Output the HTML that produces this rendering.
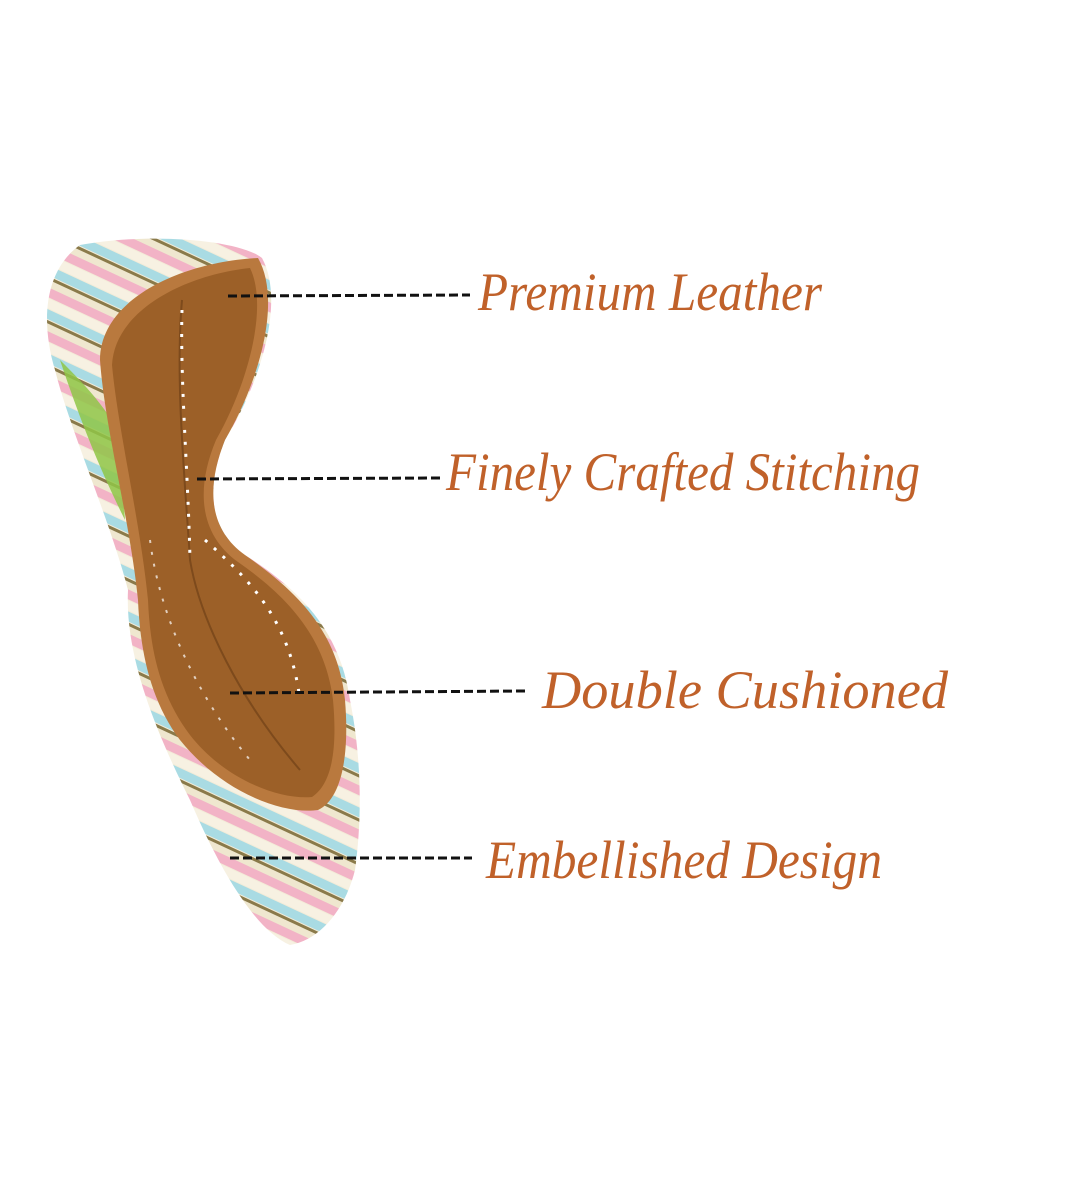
<!DOCTYPE html>
<html><head><meta charset="utf-8"><style>
html,body{margin:0;padding:0;background:#fff;}
svg{display:block}
</style></head><body>
<svg width="1080" height="1200" viewBox="0 0 1080 1200" xmlns="http://www.w3.org/2000/svg">
<defs>
<pattern id="beads" patternUnits="userSpaceOnUse" width="40" height="40" patternTransform="rotate(25)">
<rect width="40" height="40" fill="#f3ecd8"/>
<rect y="0" width="40" height="9" fill="#f2b3c6"/>
<rect y="10" width="40" height="9" fill="#f7f1e2"/>
<rect y="20" width="40" height="9" fill="#a9dbe3"/>
<rect y="30" width="40" height="3" fill="#8a7a4a"/>
<rect y="33" width="40" height="7" fill="#efe7cf"/>
</pattern>
</defs>
<path d="M80,245 C150,232 240,240 262,258 C285,300 262,380 225,440 C205,490 210,530 245,555 C300,590 340,630 350,700 C362,760 362,820 355,870 C345,910 320,940 290,945 C255,930 220,870 190,800 C150,720 125,650 128,590 C110,520 70,430 55,370 C40,320 45,270 80,245 Z" fill="url(#beads)"/>
<path d="M60,360 C80,420 100,470 125,520 L118,430 C100,400 80,380 60,360Z" fill="#8fc646" opacity="0.85"/>
<path d="M258,258 C282,300 260,380 225,440 C205,490 210,530 245,555 C295,590 338,630 345,700 C350,760 340,800 318,810 C280,815 220,790 180,740 C150,700 140,650 138,600 C130,520 105,430 100,360 C100,300 180,262 258,258Z" fill="#b9793e"/>
<path d="M250,268 C268,305 250,380 216,440 C195,490 200,535 238,562 C285,595 325,635 333,700 C338,755 330,785 312,797 C280,800 225,780 190,735 C160,695 150,650 148,600 C140,520 118,430 112,365 C115,310 185,275 250,268 Z" fill="#9c6028"/>
<path d="M182,300 C175,380 185,480 190,560 C200,620 240,700 300,770" stroke="#7d4a1c" stroke-width="2" fill="none"/>
<path d="M182,310 C180,380 188,470 190,560" stroke="#fff" stroke-width="3" stroke-dasharray="3 9" fill="none"/>
<path d="M205,540 C250,580 290,620 300,700" stroke="#fff" stroke-width="3" stroke-dasharray="3 9" fill="none"/>
<path d="M150,540 C160,620 200,700 250,760" stroke="#fff" stroke-width="2" stroke-dasharray="3 9" fill="none" opacity="0.7"/>
<g stroke="#111" stroke-width="3" stroke-dasharray="9 4">
<line x1="228" y1="296" x2="470" y2="295"/>
<line x1="197" y1="479" x2="440" y2="478"/>
<line x1="230" y1="693" x2="525" y2="691"/>
<line x1="230" y1="858" x2="472" y2="858"/>
</g>
<g fill="#c0612a" font-family="'Liberation Serif', serif" font-style="italic" font-size="54">
<text x="478" y="310" textLength="344" lengthAdjust="spacingAndGlyphs">Premium Leather</text>
<text x="446" y="490" textLength="474" lengthAdjust="spacingAndGlyphs">Finely Crafted Stitching</text>
<text x="542" y="708" textLength="406" lengthAdjust="spacingAndGlyphs">Double Cushioned</text>
<text x="486" y="878" textLength="396" lengthAdjust="spacingAndGlyphs">Embellished Design</text>
</g>
</svg>
</body></html>
